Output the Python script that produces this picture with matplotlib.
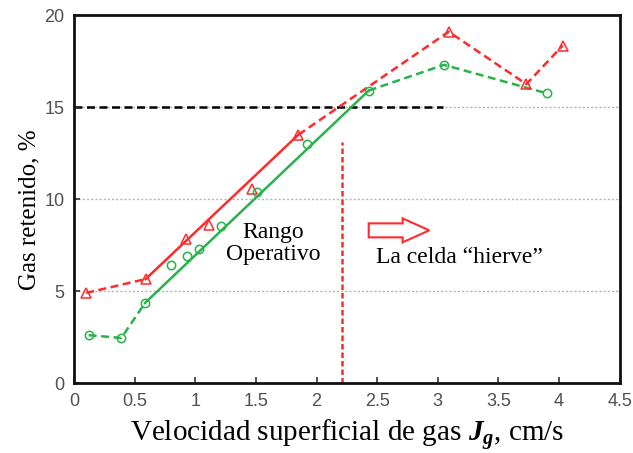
import matplotlib
matplotlib.use("Agg")
import matplotlib.pyplot as plt
from matplotlib.patches import FancyArrow

plt.rcParams.update({
    "mathtext.fontset": "custom",
    "mathtext.rm": "Liberation Serif",
    "mathtext.it": "Liberation Serif:italic",
    "mathtext.bf": "Liberation Serif:bold",
    "mathtext.bfit": "Liberation Serif:bold:italic",
})

# Gas holdup measurements (red triangles / green circles)
red_x = [0.10, 0.59, 0.92, 1.11, 1.47, 1.85, 3.09, 3.73, 4.03]
red_y = [4.9, 5.65, 7.85, 8.6, 10.55, 13.5, 19.1, 16.25, 18.35]

green_x = [0.12, 0.39, 0.585, 0.80, 0.93, 1.03, 1.21, 1.505, 1.92, 2.43, 3.05, 3.90]
green_y = [2.6, 2.45, 4.35, 6.4, 6.9, 7.3, 8.55, 10.4, 13.0, 15.9, 17.3, 15.75]

# Operating-range limits
holdup_limit = 15
limit_end_x = 3.04
boiling_jg = 2.21
boiling_top = 13.1

x_ticks = [0, 0.5, 1, 1.5, 2, 2.5, 3, 3.5, 4, 4.5]
x_tick_labels = ["0", "0.5", "1", "1.5", "2", "2.5", "3", "3.5", "4", "4.5"]
y_ticks = [0, 5, 10, 15, 20]
y_tick_labels = ["0", "5", "10", "15", "20"]

RED = "#ff2b2b"
GREEN = "#27b24a"
DASH = (0, (3.2, 1.8))

fig = plt.figure(figsize=(6.33, 4.53), dpi=100)
ax = fig.add_axes([0.117, 0.1545, 0.862, 0.812])
ax.set_xlim(0, 4.5)
ax.set_ylim(0, 20)

# light dotted grid on the y ticks
for yv in [5, 10, 15]:
    ax.axhline(yv, color="#b5b5b5", lw=1.0, ls=(0, (1.5, 1.5)), zorder=0)

ax.plot([0, limit_end_x], [holdup_limit, holdup_limit], color="black",
        lw=1.8, ls=DASH, zorder=1)

# red series
ax.plot(red_x[:2], red_y[:2], color=RED, lw=1.8, ls=DASH, zorder=2)
ax.plot(red_x[5:], red_y[5:], color=RED, lw=1.8, ls=DASH, zorder=2)
ax.plot([red_x[1], red_x[5]], [red_y[1], red_y[5]], color=RED, lw=1.8, zorder=2)
ax.plot(red_x, red_y, ls="none", marker="^", ms=7, mfc="none", mec=RED,
        mew=1.1, zorder=3)

# green series
ax.plot(green_x[:3], green_y[:3], color=GREEN, lw=1.8, ls=DASH, zorder=2)
ax.plot(green_x[9:], green_y[9:], color=GREEN, lw=1.8, ls=DASH, zorder=2)
ax.plot([green_x[2], green_x[9]], [green_y[2], green_y[9]], color=GREEN, lw=1.8, zorder=2)
ax.plot(green_x, green_y, ls="none", marker="o", ms=6, mfc="none", mec=GREEN,
        mew=1.1, zorder=3)

# boundary of the operating range
ax.plot([boiling_jg, boiling_jg], [0, boiling_top], color=RED, lw=1.8,
        ls=(0, (2.2, 1.2)), zorder=2)

ax.add_patch(FancyArrow(2.43, 8.3, 0.50, 0, width=0.76, head_width=1.3,
                        head_length=0.22, length_includes_head=True,
                        fc="white", ec=RED, lw=1.5, zorder=4))

ax.text(1.64, 7.6, "Rango\nOperativo", ha="center", va="center",
        fontfamily="Liberation Serif", fontsize=17, linespacing=1.05)
ax.text(2.49, 6.8, "La celda \u201chierve\u201d", ha="left", va="center",
        fontfamily="Liberation Serif", fontsize=17)

ax.set_xticks(x_ticks)
ax.set_xticklabels(x_tick_labels)
ax.set_yticks(y_ticks)
ax.set_yticklabels(y_tick_labels)
ax.tick_params(direction="in", length=4, width=1.2, color="#333333",
               labelsize=13, labelcolor="#505050", pad=7)
for lab in ax.get_xticklabels() + ax.get_yticklabels():
    lab.set_fontfamily("Liberation Sans")

for sp in ax.spines.values():
    sp.set_linewidth(2.0)
    sp.set_color("#111111")

ax.set_xlabel(r"Velocidad superficial de gas $\mathbfit{J_g}$, cm/s",
              fontfamily="Liberation Serif", fontsize=21, labelpad=6)
ax.set_ylabel("Gas retenido, %", fontfamily="Liberation Serif", fontsize=18)
ax.yaxis.set_label_coords(-0.062, 0.47)

fig.savefig("out.png", dpi=100)
